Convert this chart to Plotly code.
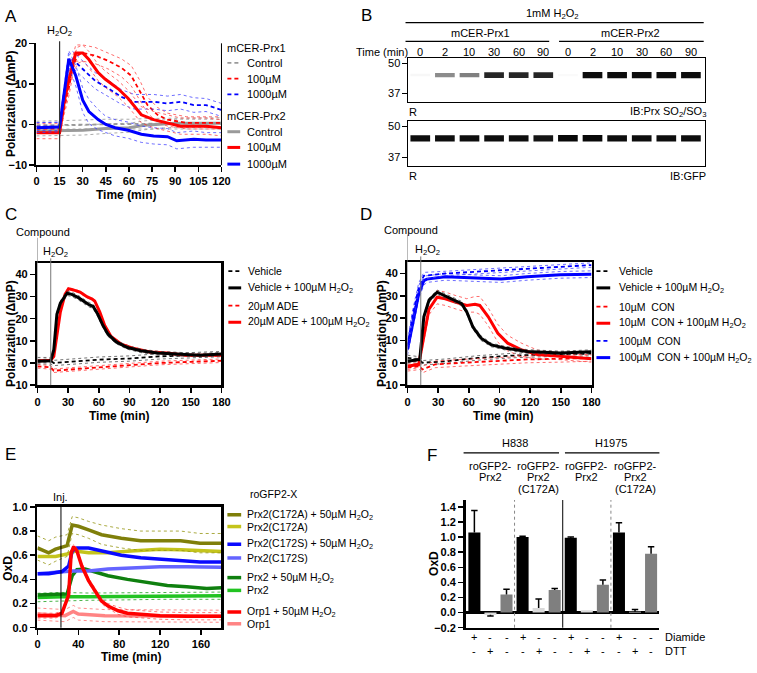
import plotly.graph_objects as go

W, H = 757, 673
FONT = "Arial, 'Liberation Sans', Helvetica, sans-serif"


def px(x):
    return x / W


def py(y):
    return 1 - y / H


# ---------------- Panel A data ----------------
A_T_P1C = [0, 15, 30, 45, 60, 75, 90, 105, 120]
A_P1C = [-0.2, -0.1, 0.0, 0.1, 0.1, 0.2, 0.2, 0.2, 0.3]
A_P1C_SEM = [1.0, 1.0, 1.1, 1.2, 1.2, 1.3, 1.3, 1.4, 1.4]

A_T_P1_100 = [0, 15, 18, 21, 23.5, 26.5, 30, 38, 47, 55, 61.5, 67, 72, 78.5, 85, 97.5, 120]
A_P1_100 = [-1.0, -1.0, 4.0, 9.0, 14.0, 17.0, 17.6, 17.0, 15.6, 14.0, 12.0, 8.4, 4.8, 2.4, 1.2, 0.4, 0.4]
A_P1_100_SEM = [1.2, 1.2, 1.5, 2.0, 2.0, 2.0, 2.0, 2.0, 2.0, 2.2, 2.5, 2.5, 2.0, 1.8, 1.6, 1.5, 1.5]

A_T_P1_1000 = [0, 15, 19, 21, 23.5, 30, 38, 47, 55, 63.5, 76, 85, 93.5, 102, 110, 120]
A_P1_1000 = [-0.5, -0.5, 10.0, 15.0, 16.0, 13.6, 10.8, 8.8, 6.8, 5.6, 5.6, 5.2, 5.6, 4.8, 4.8, 3.6]
A_P1_1000_SEM = [1.0, 1.0, 1.5, 2.0, 2.0, 2.0, 2.0, 2.0, 1.8, 1.8, 1.8, 1.8, 1.8, 1.8, 1.6, 1.6]

A_T_P2C = [0, 15, 30, 45, 60, 70, 80, 90, 105, 120]
A_P2C = [-1.6, -1.5, -1.4, -1.0, -0.8, -0.2, 0.1, 0.3, 0.3, 0.3]
A_P2C_SEM = [1.2, 1.2, 1.2, 1.2, 1.1, 1.1, 1.0, 1.0, 1.0, 1.0]

A_T_P2_100 = [0, 15, 18, 21, 25.5, 30, 34, 40, 44.5, 53, 59.5, 68, 76, 85, 93.5, 110, 120]
A_P2_100 = [-2.0, -2.0, 5.6, 11.0, 17.6, 17.6, 16.0, 12.8, 11.2, 8.8, 6.4, 2.4, 1.2, 0.4, -0.4, -0.4, -0.8]
A_P2_100_SEM = [1.5, 1.5, 1.8, 2.0, 2.0, 2.0, 2.0, 2.0, 2.0, 2.0, 2.0, 2.0, 2.0, 2.0, 2.0, 2.0, 2.0]

A_T_P2_1000 = [0, 15, 21, 25.5, 30, 34, 40, 45, 51, 59.5, 68, 76, 85, 91, 102, 110, 120]
A_P2_1000 = [-0.8, -0.6, 16.2, 12.0, 6.0, 3.2, 1.2, 0.0, -0.8, -1.4, -2.4, -2.8, -3.0, -4.0, -3.6, -3.8, -3.8]
A_P2_1000_SEM = [1.2, 1.2, 2.0, 2.5, 3.0, 3.0, 2.5, 2.0, 2.0, 2.0, 2.0, 2.0, 2.0, 2.0, 2.0, 1.8, 1.8]

A_H2O2_TIME = 15
A_XTICKS = [0, 15, 30, 45, 60, 75, 90, 105, 120]
A_YTICKS = [-10, 0, 10, 20]

# ---------------- Panel B data (blot) ----------------
B_LANES = [0, 1, 2, 3, 4, 5, 6, 7, 8, 9, 10, 11]
B_LANE_LABELS = ["0", "2", "10", "30", "60", "90", "0", "2", "10", "30", "60", "90"]
B_SO2_INTENSITY = [0.03, 0.45, 0.5, 0.85, 0.85, 0.85, 0.02, 0.95, 0.95, 0.95, 0.95, 0.95]
B_GFP_INTENSITY = [0.95, 0.95, 0.95, 0.95, 0.95, 0.92, 0.97, 0.97, 0.95, 0.95, 0.95, 0.95]
B_BAND_KDA = 45
B_MARKERS = [50, 37]

# ---------------- Panel C data ----------------
C_T_VEH = [0, 13, 16, 30, 60, 90, 120, 150, 180]
C_VEH = [1.0, 1.0, 0.0, 0.5, 1.5, 2.0, 3.0, 3.5, 4.0]
C_VEH_SEM = [1.5, 1.5, 1.2, 1.2, 1.2, 1.2, 1.2, 1.2, 1.2]
C_T_VEHH = [0, 13, 16, 19, 22.4, 29, 33.6, 40, 49.7, 54.5, 59, 64, 69, 77, 88, 101, 117, 136, 159, 180]
C_VEHH = [0.8, 1.0, 6.0, 22.0, 27.0, 31.5, 31.0, 29.5, 26.5, 25.5, 22.0, 17.0, 13.0, 9.5, 7.0, 5.5, 4.5, 4.0, 3.5, 4.0]
C_VEHH_SEM = [0.8, 0.8, 1.0, 1.0, 1.0, 1.0, 1.0, 1.0, 1.0, 1.0, 1.0, 1.0, 1.0, 0.8, 0.8, 0.8, 0.8, 0.8, 0.8, 0.8]
C_T_ADE = [0, 13, 16, 30, 60, 90, 120, 150, 180]
C_ADE = [-1.5, -2.0, -3.5, -3.0, -2.0, -1.0, 0.0, 0.5, 1.0]
C_ADE_SEM = [0.8, 0.8, 0.8, 0.8, 0.8, 0.8, 0.8, 0.8, 0.8]
C_T_ADEH = [0, 13, 16, 19, 22.4, 27, 30.4, 35, 41.7, 48, 53, 56, 61, 65.7, 72, 82, 94.6, 110, 126.6, 145.8, 180]
C_ADEH = [1.0, 1.2, 3.0, 12.0, 23.0, 31.0, 33.5, 33.0, 32.0, 30.0, 29.0, 28.0, 23.0, 17.0, 12.0, 8.5, 6.5, 5.0, 4.5, 3.5, 3.5]
C_ADEH_SEM = [0.5, 0.5, 0.5, 0.5, 0.5, 0.5, 0.5, 0.5, 0.5, 0.5, 0.5, 0.5, 0.5, 0.5, 0.5, 0.5, 0.5, 0.5, 0.5, 0.5, 0.5]

# ---------------- Panel D data ----------------
D_T_VEH = [0, 12, 14.5, 37, 69, 101, 133, 180]
D_VEH = [2.2, 1.5, 0.0, 0.7, 2.2, 3.2, 3.7, 4.1]
D_VEH_SEM = [1.2, 1.2, 1.0, 1.0, 1.0, 1.0, 1.0, 1.0]
D_T_VEHH = [0, 12, 16, 21, 29, 37, 46.6, 53, 58, 64, 72, 82, 95, 117, 149.5, 180]
D_VEHH = [0.7, 1.5, 20.6, 28.0, 31.6, 30.0, 28.0, 26.5, 22.8, 16.0, 11.0, 8.0, 6.6, 5.1, 4.4, 5.0]
D_VEHH_SEM = [0.8, 0.8, 1.0, 1.0, 1.0, 1.0, 1.0, 1.0, 1.0, 1.0, 1.0, 0.8, 0.8, 0.8, 0.8, 0.8]
D_T_CON10 = [0, 12, 14.5, 27, 53, 85, 117, 149.5, 180]
D_CON10 = [-2.2, -1.5, -3.0, -0.7, 0.0, 0.7, 1.5, 1.8, 2.2]
D_CON10_SEM = [1.5, 1.5, 1.5, 1.5, 1.5, 1.5, 1.5, 1.5, 1.5]
D_T_CON10H = [0, 11, 16, 21, 29, 37, 46.6, 58, 66, 70.7, 79, 88.4, 98, 111, 127, 149.5, 180]
D_CON10H = [-1.5, -0.7, 11.8, 24.0, 29.4, 28.7, 27.2, 25.7, 26.2, 25.7, 20.6, 13.2, 8.8, 5.9, 3.7, 2.9, 1.8]
D_CON10H_SEM = [1.5, 1.5, 2.0, 2.5, 3.0, 3.0, 3.0, 3.0, 3.5, 4.0, 4.0, 4.0, 3.5, 3.0, 2.0, 1.5, 1.5]
D_T_CON100 = [0, 4.8, 11, 16, 37, 69, 101, 133, 180]
D_CON100 = [7.4, 20.6, 33.8, 39.0, 40.0, 40.9, 41.9, 42.6, 43.8]
D_CON100_SEM = [2.5, 2.5, 2.0, 1.5, 1.0, 1.0, 1.0, 1.0, 1.0]
D_T_CON100H = [0, 4.8, 11, 16, 19, 37, 69, 91.6, 117, 149.5, 180]
D_CON100H = [6.0, 17.6, 31.0, 36.8, 37.5, 38.5, 37.8, 37.5, 38.5, 39.4, 39.7]
D_CON100H_SEM = [2.5, 3.0, 2.5, 2.0, 1.5, 1.5, 1.5, 1.5, 1.5, 1.5, 1.5]

CD_XTICKS = [0, 30, 60, 90, 120, 150, 180]
CD_YTICKS = [-10, 0, 10, 20, 30, 40]
CD_COMPOUND_TIME = 0
CD_H2O2_TIME = 13

# ---------------- Panel E data ----------------
E_T_A172H = [0, 11, 17.7, 29, 34, 40, 50, 62.7, 82, 101, 120.6, 140, 159, 180]
E_A172H = [0.66, 0.62, 0.65, 0.68, 0.85, 0.84, 0.81, 0.77, 0.74, 0.72, 0.72, 0.72, 0.70, 0.70]
E_A172H_SEM = [0.10, 0.10, 0.10, 0.09, 0.07, 0.07, 0.07, 0.08, 0.08, 0.08, 0.08, 0.08, 0.08, 0.08]
E_T_A172 = [0, 17.7, 29, 37, 50, 69, 91.6, 120, 140, 159, 180]
E_A172 = [0.59, 0.59, 0.61, 0.635, 0.62, 0.62, 0.635, 0.65, 0.645, 0.635, 0.63]
E_T_S172H = [0, 11, 24, 30.5, 34, 38.6, 50, 62.7, 82, 101, 120, 140, 159, 180]
E_S172H = [0.446, 0.446, 0.465, 0.51, 0.635, 0.66, 0.66, 0.635, 0.60, 0.58, 0.57, 0.555, 0.545, 0.545]
E_T_S172 = [0, 24, 34, 50, 69, 91.6, 120, 146, 180]
E_S172 = [0.446, 0.46, 0.47, 0.47, 0.486, 0.495, 0.505, 0.505, 0.50]
E_T_PRX2H = [0, 24, 29, 34, 38.6, 46.6, 56, 69, 88, 108, 127, 146, 165.6, 180]
E_PRX2H = [0.27, 0.275, 0.28, 0.43, 0.48, 0.486, 0.46, 0.43, 0.40, 0.375, 0.35, 0.34, 0.325, 0.33]
E_T_PRX2 = [0, 24, 50, 82, 120, 180]
E_PRX2 = [0.25, 0.257, 0.257, 0.26, 0.265, 0.265]
E_PRX2_SEM = [0.035, 0.035, 0.03, 0.03, 0.03, 0.03]
E_T_ORP1H = [0, 17.7, 24, 29, 30.5, 33, 35.4, 38.6, 43.4, 50, 58, 62.7, 69, 79, 88, 101, 120, 146, 180]
E_ORP1H = [0.10, 0.10, 0.12, 0.23, 0.27, 0.62, 0.67, 0.635, 0.51, 0.39, 0.28, 0.22, 0.18, 0.14, 0.12, 0.11, 0.10, 0.095, 0.095]
E_ORP1H_SEM = [0.02, 0.02, 0.02, 0.02, 0.02, 0.02, 0.02, 0.02, 0.02, 0.02, 0.02, 0.02, 0.02, 0.03, 0.03, 0.03, 0.03, 0.03, 0.03]
E_T_ORP1 = [0, 17.7, 27, 35, 40, 66, 98, 130, 180]
E_ORP1 = [0.113, 0.108, 0.10, 0.135, 0.113, 0.10, 0.10, 0.095, 0.095]
E_ORP1_SEM = [0.05, 0.05, 0.05, 0.05, 0.05, 0.05, 0.05, 0.05, 0.05]
E_INJ_TIME = 23
E_XTICKS = [0, 40, 80, 120, 160]
E_YTICKS = [0.0, 0.2, 0.4, 0.6, 0.8, 1.0]

# ---------------- Panel F data ----------------
F_BARS = [0, 1, 2, 3, 4, 5, 6, 7, 8, 9, 10, 11]
F_VALUES = [1.06, -0.03, 0.24, 1.00, 0.06, 0.30, 0.99, 0.03, 0.37, 1.06, 0.01, 0.78]
F_ERR_UP = [0.29, 0.0, 0.07, 0.01, 0.12, 0.02, 0.01, 0.0, 0.06, 0.13, 0.03, 0.09]
F_ERR_DOWN = [0.0, 0.015, 0.0, 0.0, 0.0, 0.0, 0.0, 0.0, 0.0, 0.0, 0.0, 0.0]
F_DIAMIDE = ["+", "-", "-", "+", "-", "-", "+", "-", "-", "+", "-", "-"]
F_DTT = ["-", "+", "-", "-", "+", "-", "-", "+", "-", "-", "+", "-"]
F_CELL_LINES = ["H838", "H1975"]
F_CONSTRUCTS = [["roGFP2-", "Prx2"], ["roGFP2-", "Prx2", "(C172A)"],
                ["roGFP2-", "Prx2"], ["roGFP2-", "Prx2", "(C172A)"]]
F_YTICKS = [-0.2, 0.0, 0.2, 0.4, 0.6, 0.8, 1.0, 1.2, 1.4]

# =====================================================
fig = go.Figure()
annotations = []
shapes = []


def ann(text, x, y, size=11, bold=False, xanchor="center", angle=0, xref="paper", color="black"):
    if xref == "paper":
        if xanchor == "left":
            x -= 2
        elif xanchor == "right":
            x += 2
        xv = px(x)
    else:
        xv = x
    annotations.append(dict(
        text=text, x=xv, y=py(y), xref=xref, yref="paper",
        xanchor=xanchor, yanchor="middle", showarrow=False, textangle=angle,
        font=dict(family=FONT, size=size, color=color, weight=("bold" if bold else "normal"))))


def hline_px(x0, x1, y, color="black", width=1.2, dash="solid"):
    shapes.append(dict(type="line", xref="paper", yref="paper", x0=px(x0), x1=px(x1),
                       y0=py(y), y1=py(y), line=dict(color=color, width=width, dash=dash)))


def vline(xref, xval, ytop, ybot, color="black", width=1, dash="solid"):
    shapes.append(dict(type="line", xref=xref, yref="paper", x0=xval, x1=xval,
                       y0=py(ybot), y1=py(ytop), line=dict(color=color, width=width, dash=dash)))


def series(xa, ya, t, m, color, width, dash="solid", sem=None, semcolor=None):
    if sem is not None:
        up = [a + b for a, b in zip(m, sem)]
        lo = [a - b for a, b in zip(m, sem)]
        for yy in (up, lo):
            fig.add_trace(go.Scatter(x=t, y=yy, xaxis=xa, yaxis=ya, mode="lines",
                                     line=dict(color=semcolor or color, width=1, dash="dot"),
                                     hoverinfo="skip", showlegend=False))
    fig.add_trace(go.Scatter(x=t, y=m, xaxis=xa, yaxis=ya, mode="lines",
                             line=dict(color=color, width=width, dash=dash),
                             hoverinfo="skip", showlegend=False))


TICKFONT = dict(family=FONT, size=11, color="black", weight="bold")


def axis(dom_px, rng, tickvals, horizontal, lw=2.0, mirror=False, ticktext=None, anchor=None,
         showticks=True, tickfont=TICKFONT):
    if horizontal:
        dom = [px(dom_px[0]), px(dom_px[1])]
    else:
        dom = [py(dom_px[1]), py(dom_px[0])]
    d = dict(domain=dom, range=rng, showgrid=False, zeroline=False, showline=True,
             linecolor="black", linewidth=lw, mirror=mirror, fixedrange=True,
             anchor=anchor)
    if showticks:
        d.update(tickvals=tickvals, ticks="outside", ticklen=5, tickwidth=1.5,
                 tickcolor="black", tickfont=tickfont)
        if ticktext is not None:
            d["ticktext"] = ticktext
    else:
        d.update(ticks="", showticklabels=False)
    return d


RED, BLUE, GRAY = "#ff0000", "#0000ff", "#9a9a9a"
RED_L, BLUE_L, GRAY_L, BLACK_L = "rgba(255,60,60,0.75)", "rgba(60,60,255,0.75)", "rgba(150,150,150,0.8)", "rgba(80,80,80,0.8)"
DASH = "4px,3px"
LEGSIZE = 10.5

# ---------------- Panel A ----------------
layout_axes = {}
layout_axes["xaxis"] = axis((34, 222), [0, 120], A_XTICKS, True, anchor="y")
layout_axes["yaxis"] = axis((38, 162), [-10, 20], A_YTICKS, False, anchor="x")
series("x", "y", A_T_P1C, A_P1C, GRAY, 1.8, DASH, A_P1C_SEM, GRAY_L)
series("x", "y", A_T_P2C, A_P2C, GRAY, 3, "solid", A_P2C_SEM, GRAY_L)
series("x", "y", A_T_P1_100, A_P1_100, RED, 1.8, DASH, A_P1_100_SEM, RED_L)
series("x", "y", A_T_P1_1000, A_P1_1000, BLUE, 1.8, DASH, A_P1_1000_SEM, BLUE_L)
series("x", "y", A_T_P2_100, A_P2_100, RED, 3, "solid", A_P2_100_SEM, RED_L)
series("x", "y", A_T_P2_1000, A_P2_1000, BLUE, 3, "solid", A_P2_1000_SEM, BLUE_L)
shapes.append(dict(type="line", xref="x domain", yref="y domain", x0=1, x1=1, y0=0, y1=1,
                   line=dict(color="black", width=1)))
vline("x", A_H2O2_TIME, 36, 162, "#333333", 1.2)
ann("H<sub>2</sub>O<sub>2</sub>", 57, 25)
ann("Polarization (\u0394mP)", 8, 99, size=12, bold=True, angle=-90)
ann("Time (min)", 125, 192, size=12, bold=True)
ann("mCER-Prx1", 228, 43, xanchor="left")
ann("mCER-Prx2", 228, 112, xanchor="left")
A_LEG = [("Control", GRAY, DASH, 1.8, 58), ("100\u00b5M", RED, DASH, 1.8, 74),
         ("1000\u00b5M", BLUE, DASH, 1.8, 90), ("Control", GRAY, "solid", 3, 128),
         ("100\u00b5M", RED, "solid", 3, 144), ("1000\u00b5M", BLUE, "solid", 3, 161)]
for txt, col, dsh, wd, yy in A_LEG:
    hline_px(228, 241, yy, col, wd, dsh)
    ann(txt, 248, yy, xanchor="left")

# ---------------- Panel B (blots) ----------------
BLOT_FONT = dict(family=FONT, size=11, color="black")
layout_axes["xaxis2"] = axis((412, 713), [-0.48, 11.56], [], True, lw=1, mirror=True, anchor="y2", showticks=False)
layout_axes["yaxis2"] = axis((53, 98), [33.2, 52.4], B_MARKERS, False, lw=1, mirror=True, anchor="x2", tickfont=BLOT_FONT)
layout_axes["xaxis3"] = axis((412, 713), [-0.48, 11.56], [], True, lw=1, mirror=True, anchor="y3", showticks=False)
layout_axes["yaxis3"] = axis((117, 163), [33.2, 52.4], B_MARKERS, False, lw=1, mirror=True, anchor="x3", tickfont=BLOT_FONT)
for k in ("yaxis2", "yaxis3"):
    layout_axes[k].update(ticklen=5, tickwidth=1)


def band_colors(vals):
    out = []
    for v in vals:
        g = int(round(255 * (1 - v)))
        out.append(f"rgb({g},{g},{g})")
    return out


for xa, ya, inten in (("x2", "y2", B_SO2_INTENSITY), ("x3", "y3", B_GFP_INTENSITY)):
    thick = [1.0 + 1.8 * v for v in inten]
    fig.add_trace(go.Bar(
        x=B_LANES, y=thick, base=[B_BAND_KDA - t / 2 for t in thick], xaxis=xa, yaxis=ya,
        width=0.8, marker=dict(color=band_colors(inten), line=dict(width=0)),
        hoverinfo="skip", showlegend=False))

ann("1mM H<sub>2</sub>O<sub>2</sub>", 558, 8)
hline_px(409, 712, 17)
ann("mCER-Prx1", 485, 27)
hline_px(409, 555, 36)
ann("mCER-Prx2", 638, 27)
hline_px(565, 712, 36)
ann("Time (min)", 412, 47, xanchor="right")
for lane, lab in zip(B_LANES, B_LANE_LABELS):
    ann(lab, lane, 47, xref="x2")
ann("R", 412, 108, xanchor="left")
ann("IB:Prx SO<sub>2</sub>/SO<sub>3</sub>", 714, 108, xanchor="right")
ann("R", 412, 173, xanchor="left")
ann("IB:GFP", 714, 173, xanchor="right")

# ---------------- Panel C ----------------
layout_axes["xaxis4"] = axis((35, 222), [0, 180], CD_XTICKS, True, lw=2.5, mirror=True, anchor="y4")
layout_axes["yaxis4"] = axis((262, 386), [-10, 45], CD_YTICKS, False, lw=2.5, mirror=True, anchor="x4")
series("x4", "y4", C_T_VEH, C_VEH, "black", 1.8, DASH, C_VEH_SEM, BLACK_L)
series("x4", "y4", C_T_ADE, C_ADE, RED, 1.8, DASH, C_ADE_SEM, RED_L)
series("x4", "y4", C_T_ADEH, C_ADEH, RED, 3, "solid", C_ADEH_SEM, RED_L)
series("x4", "y4", C_T_VEHH, C_VEHH, "black", 3, "solid", C_VEHH_SEM, BLACK_L)
vline("x4", CD_COMPOUND_TIME, 236, 386, "#777777", 1)
vline("x4", CD_H2O2_TIME, 257, 386, "#777777", 1)
ann("Compound", 41, 230, xanchor="center")
ann("H<sub>2</sub>O<sub>2</sub>", 53, 250)
ann("Polarization (\u0394mP)", 8, 333, size=12, bold=True, angle=-90)
ann("Time (min)", 118, 417, size=12, bold=True)
C_LEG = [("Vehicle", "black", DASH, 1.8, 270),
         ("Vehicle + 100\u00b5M H<sub>2</sub>O<sub>2</sub>", "black", "solid", 3, 287),
         ("20\u00b5M ADE", RED, DASH, 1.8, 305),
         ("20\u00b5M ADE + 100\u00b5M H<sub>2</sub>O<sub>2</sub>", RED, "solid", 3, 322)]
for txt, col, dsh, wd, yy in C_LEG:
    hline_px(229, 242, yy, col, wd, dsh)
    ann(txt, 249, yy, size=LEGSIZE, xanchor="left")

# ---------------- Panel D ----------------
layout_axes["xaxis5"] = axis((411, 598), [0, 180], CD_XTICKS, True, lw=2.5, mirror=True, anchor="y5")
layout_axes["yaxis5"] = axis((261, 386), [-10, 45], CD_YTICKS, False, lw=2.5, mirror=True, anchor="x5")
series("x5", "y5", D_T_VEH, D_VEH, "black", 1.8, DASH, D_VEH_SEM, BLACK_L)
series("x5", "y5", D_T_CON10, D_CON10, RED, 1.8, DASH, D_CON10_SEM, RED_L)
series("x5", "y5", D_T_CON10H, D_CON10H, RED, 3, "solid", D_CON10H_SEM, RED_L)
series("x5", "y5", D_T_VEHH, D_VEHH, "black", 3, "solid", D_VEHH_SEM, BLACK_L)
series("x5", "y5", D_T_CON100H, D_CON100H, BLUE, 3, "solid", D_CON100H_SEM, BLUE_L)
series("x5", "y5", D_T_CON100, D_CON100, BLUE, 1.8, DASH, D_CON100_SEM, BLUE_L)
vline("x5", CD_COMPOUND_TIME, 233, 386, "#777777", 1)
vline("x5", CD_H2O2_TIME, 255, 386, "#777777", 1)
ann("Compound", 415, 228)
ann("H<sub>2</sub>O<sub>2</sub>", 431, 248)
ann("Polarization (\u0394mP)", 385, 333, size=12, bold=True, angle=-90)
ann("Time (min)", 508, 417, size=12, bold=True)
D_LEG = [("Vehicle", "black", DASH, 1.8, 270),
         ("Vehicle + 100\u00b5M H<sub>2</sub>O<sub>2</sub>", "black", "solid", 3, 287),
         ("10\u00b5M  CON", RED, DASH, 1.8, 306),
         ("10\u00b5M  CON + 100\u00b5M H<sub>2</sub>O<sub>2</sub>", RED, "solid", 3, 323),
         ("100\u00b5M  CON", BLUE, DASH, 1.8, 341),
         ("100\u00b5M  CON + 100\u00b5M H<sub>2</sub>O<sub>2</sub>", BLUE, "solid", 3, 358)]
for txt, col, dsh, wd, yy in D_LEG:
    hline_px(603, 617, yy, col, wd, dsh)
    ann(txt, 626, yy, size=LEGSIZE, xanchor="left")

# ---------------- Panel E ----------------
OLIVE, YEL, EBLUE, LBLUE, GREEN, LGREEN, PINK = "#7f7f0a", "#c4c41c", "#0a0aff", "#6464ff", "#0f800f", "#22c322", "#ff8484"
layout_axes["xaxis6"] = axis((35, 222), [0, 180], E_XTICKS, True, lw=2.5, mirror=True, anchor="y6")
layout_axes["yaxis6"] = axis((510, 633), [0, 1.0], E_YTICKS, False, lw=2.5, mirror=True, anchor="x6")
layout_axes["yaxis6"]["tickformat"] = ".1f"
series("x6", "y6", E_T_ORP1, E_ORP1, PINK, 3.5, "solid", E_ORP1_SEM, "rgba(255,110,110,0.8)")
series("x6", "y6", E_T_PRX2, E_PRX2, LGREEN, 3.5, "solid", E_PRX2_SEM, "rgba(30,160,30,0.8)")
series("x6", "y6", E_T_PRX2H, E_PRX2H, GREEN, 3.5)
series("x6", "y6", E_T_S172, E_S172, LBLUE, 3.5)
series("x6", "y6", E_T_A172, E_A172, YEL, 3.5)
series("x6", "y6", E_T_A172H, E_A172H, OLIVE, 3.5, "solid", E_A172H_SEM, "rgba(150,150,20,0.8)")
series("x6", "y6", E_T_S172H, E_S172H, EBLUE, 3.5)
series("x6", "y6", E_T_ORP1H, E_ORP1H, RED, 3.5, "solid", E_ORP1H_SEM, "rgba(255,60,60,0.7)")
vline("x6", E_INJ_TIME, 507, 633, "black", 1)
ann("Inj.", 58, 500)
ann("OxD", 5, 572, size=12, bold=True, angle=-90)
ann("Time (min)", 130, 663, size=12, bold=True)
ann("roGFP2-X", 251, 497, size=LEGSIZE, xanchor="left")
E_LEG = [("Prx2(C172A) + 50\u00b5M H<sub>2</sub>O<sub>2</sub>", OLIVE, 518),
         ("Prx2(C172A)", YEL, 530),
         ("Prx2(C172S) + 50\u00b5M H<sub>2</sub>O<sub>2</sub>", EBLUE, 548),
         ("Prx2(C172S)", LBLUE, 562),
         ("Prx2 + 50\u00b5M H<sub>2</sub>O<sub>2</sub>", GREEN, 582),
         ("Prx2", LGREEN, 595),
         ("Orp1 + 50\u00b5M H<sub>2</sub>O<sub>2</sub>", RED, 617),
         ("Orp1", PINK, 629)]
for txt, col, yy in E_LEG:
    hline_px(228, 242, yy, col, 3.5)
    ann(txt, 248, yy, size=LEGSIZE, xanchor="left")

# ---------------- Panel F ----------------
layout_axes["xaxis7"] = axis((470, 667), [-0.55, 11.52], [], True, lw=2.5, anchor="y7", showticks=False)
layout_axes["yaxis7"] = axis((503, 633), [-0.2, 1.49], F_YTICKS, False, lw=2.5, anchor="x7")
layout_axes["yaxis7"].update(tickformat=".1f", zeroline=True, zerolinecolor="black", zerolinewidth=2.5)
bar_colors = []
for dia, dtt in zip(F_DIAMIDE, F_DTT):
    if dia == "+":
        bar_colors.append("#000000")
    elif dtt == "+":
        bar_colors.append("#d9d9d9")
    else:
        bar_colors.append("#7f7f7f")
fig.add_trace(go.Bar(
    x=F_BARS, y=F_VALUES, xaxis="x7", yaxis="y7", width=0.75,
    marker=dict(color=bar_colors, line=dict(width=0)),
    hoverinfo="skip", showlegend=False))
# one-sided error bars (whisker + cap) built from the data
CAP = 0.2
ex, ey = [], []
for b, v, up, dn in zip(F_BARS, F_VALUES, F_ERR_UP, F_ERR_DOWN):
    for e in (up, -dn):
        if e:
            ex += [b, b, None, b - CAP, b + CAP, None]
            ey += [v, v + e, None, v + e, v + e, None]
fig.add_trace(go.Scatter(x=ex, y=ey, xaxis="x7", yaxis="y7", mode="lines",
                         line=dict(color="black", width=1.5), hoverinfo="skip", showlegend=False))
for xs, dash, col in ((2.5, "dot", "#888888"), (5.5, "solid", "black"), (8.5, "dot", "#888888")):
    vline("x7", xs, 503, 633, col, 1, dash)
ann("OxD", 438, 568, size=12, bold=True, angle=-90)
for i, name in enumerate(F_CELL_LINES):
    ann(name, 2.5 + 6 * i, 445, xref="x7")
hline_px(468, 565, 455)
hline_px(571, 667, 455)
for gi, lines in enumerate(F_CONSTRUCTS):
    for li, txt in enumerate(lines):
        ann(txt, 1 + 3 * gi, 468 + 12 * li, xref="x7")
for b, d1, d2 in zip(F_BARS, F_DIAMIDE, F_DTT):
    ann(d1, b, 642, xref="x7")
    ann(d2, b, 657, xref="x7")
ann("Diamide", 673, 642, xanchor="left")
ann("DTT", 673, 657, xanchor="left")

# ---------------- Panel letters ----------------
for letter, lx, ly in (("A", 8, 11), ("B", 369, 10), ("C", 8, 212), ("D", 369, 212), ("E", 8, 457), ("F", 436, 458)):
    ann(letter, lx, ly, size=17)

fig.update_layout(
    width=W, height=H, autosize=False, margin=dict(l=0, r=0, t=0, b=0),
    paper_bgcolor="white", plot_bgcolor="white", showlegend=False,
    font=dict(family=FONT, size=11, color="black"),
    annotations=annotations, shapes=shapes, **layout_axes)

fig.write_html("out.html", config={"displayModeBar": False, "staticPlot": True},
               post_script="document.body.style.margin='0px';")
